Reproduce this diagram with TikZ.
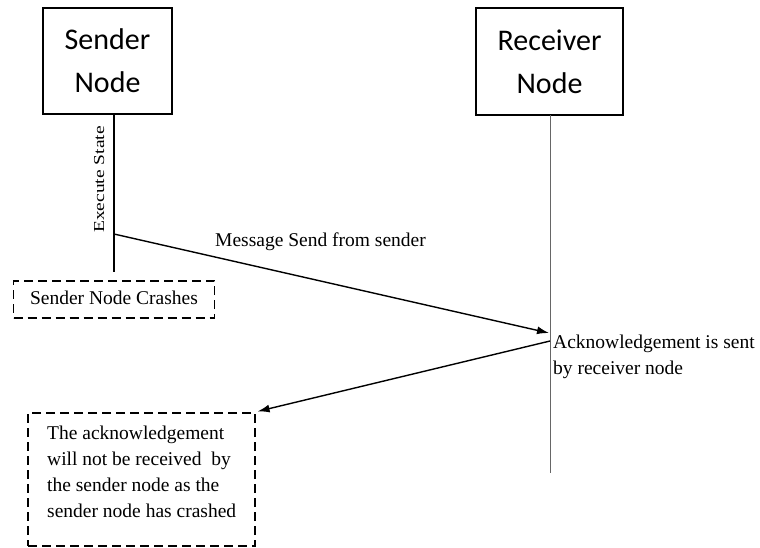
\documentclass[tikz,border=0pt]{standalone}
\usepackage{fontspec}
\setmainfont{Liberation Serif}
\newfontfamily\boxfont{Carlito}
\usetikzlibrary{arrows.meta}
\tikzset{
  actor/.style={draw, line width=1.4pt, inner sep=0pt, font=\boxfont\fontsize{30}{43}\selectfont, align=center},
  lifeline/.style={line width=1.3pt},
  msg/.style={line width=1.4pt, -{Latex[length=12pt,width=8pt]}},
  dashbox/.style={draw, line width=1.2pt, dash pattern=on 9pt off 5pt, inner sep=0pt},
  txt/.style={inner sep=0pt, font=\fontsize{19.5}{26}\selectfont},
}
\begin{document}
\begin{tikzpicture}[x=1pt, y=-1pt]
\useasboundingbox (0,0) rectangle (760,547);

% participants
\node[actor, minimum width=129pt, minimum height=106pt] (sender) at (107.5,61) {Sender\\Node};
\node[actor, minimum width=147pt, minimum height=107pt] (receiver) at (549.5,61.5) {Receiver\\Node};

% lifelines
\coordinate (sTop) at (114,114);
\coordinate (sEnd) at (114,272);
\coordinate (rTop) at (550.5,115);
\coordinate (rEnd) at (550.5,473);
\draw[lifeline] (sTop) -- (sEnd);
\draw[lifeline, line width=1.7pt, black!60] (rTop) -- (rEnd);

% execution label on the sender lifeline
\node[txt, rotate=90, anchor=base west] (exec) at (104,233) {\scalebox{1}[0.78]{Execute State}};

% crash note
\node[dashbox, minimum width=201pt, minimum height=37pt] (crash) at (114,299.5) {};
\node[txt] (crashtxt) at (114,298) {Sender Node Crashes};

% message to receiver
\coordinate (msgStart) at (114,234);
\coordinate (msgEnd) at (549,333);
\draw[msg] (msgStart) -- (msgEnd);
\node[txt, anchor=base west] (msgtxt) at (215,246) {Message Send from sender};

% acknowledgement (anchored on the baseline of its last line)
\coordinate (ackStart) at (550,341);
\node[txt, anchor=base west, align=left] (acktxt) at (553,374) {Acknowledgement is sent\\by receiver node};

% final note
\node[dashbox, minimum width=227pt, minimum height=133pt] (note) at (141.5,479.5) {};
\node[txt, anchor=base west, align=left] (notetxt) at (47,517)
  {The acknowledgement\\will not be received~ by\\the sender node as the\\sender node has crashed};

\draw[msg] (ackStart) -- ([xshift=2pt,yshift=1pt]note.north east);
\end{tikzpicture}
\end{document}
